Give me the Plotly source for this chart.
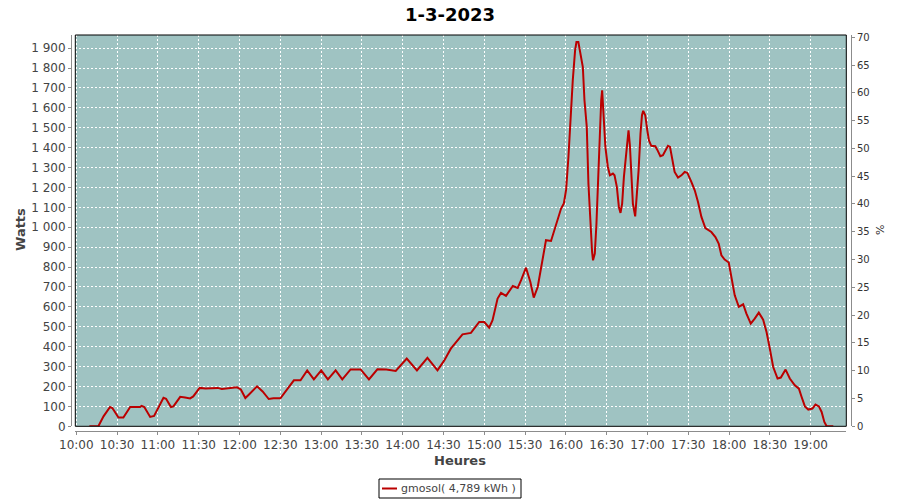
import plotly.graph_objects as go

# ---- data ----
times = [
    "10:09:36", "10:16:12", "10:20:00", "10:24:48", "10:26:30", "10:31:00", "10:34:36", "10:39:36",
    "10:46:54", "10:48:00", "10:50:00", "10:54:18", "10:57:12", "11:04:06", "11:06:00", "11:09:36",
    "11:11:24", "11:16:24", "11:20:00", "11:23:42", "11:26:00", "11:30:42", "11:35:00", "11:40:00",
    "11:44:00", "11:47:00", "11:50:00", "11:54:00", "11:58:12", "12:01:00", "12:04:18", "12:07:00",
    "12:12:54", "12:17:00", "12:21:30", "12:25:00", "12:30:06", "12:35:00", "12:40:00", "12:44:54",
    "12:49:48", "12:54:42", "13:00:06", "13:05:00", "13:10:42", "13:15:36", "13:21:42", "13:29:06",
    "13:35:12", "13:41:24", "13:48:00", "13:54:54", "13:58:00", "14:03:00", "14:10:30", "14:18:12",
    "14:25:36", "14:30:30", "14:35:24", "14:44:00", "14:50:12", "14:56:18", "15:00:00", "15:03:36",
    "15:06:06", "15:09:48", "15:12:18", "15:16:00", "15:21:00", "15:24:36", "15:27:06", "15:30:42",
    "15:33:54", "15:36:24", "15:39:18", "15:41:42", "15:45:24", "15:49:06", "15:52:48", "15:56:30",
    "15:58:30", "16:00:12", "16:01:54", "16:03:18", "16:05:06", "16:06:48", "16:07:48", "16:09:12",
    "16:10:42", "16:12:30", "16:13:42", "16:15:24", "16:16:36", "16:18:00", "16:19:18", "16:20:00",
    "16:21:18", "16:22:30", "16:24:00", "16:25:00", "16:26:00", "16:26:42", "16:27:42", "16:29:06",
    "16:30:54", "16:32:24", "16:34:36", "16:35:48", "16:37:30", "16:39:00", "16:40:12", "16:41:24",
    "16:42:42", "16:44:24", "16:45:36", "16:46:06", "16:47:06", "16:48:06", "16:49:18", "16:51:00",
    "16:52:00", "16:53:30", "16:54:54", "16:56:00", "16:56:54", "16:58:24", "16:59:54", "17:01:06",
    "17:02:48", "17:05:48", "17:07:12", "17:09:30", "17:11:24", "17:13:06", "17:15:06", "17:16:36",
    "17:18:00", "17:20:00", "17:22:30", "17:25:00", "17:27:24", "17:29:24", "17:32:18", "17:34:48",
    "17:37:12", "17:39:42", "17:42:36", "17:47:00", "17:50:00", "17:52:24", "17:54:24", "17:56:48",
    "17:59:48", "18:01:48", "18:04:12", "18:07:12", "18:10:24", "18:12:48", "18:16:00", "18:18:54",
    "18:21:54", "18:25:06", "18:27:36", "18:30:00", "18:32:30", "18:35:42", "18:38:06", "18:41:36",
    "18:44:42", "18:48:24", "18:51:24", "18:53:24", "18:55:48", "18:58:18", "19:01:18", "19:03:36",
    "19:06:06", "19:08:06", "19:10:06", "19:11:48", "19:16:42",
]
watts = [
    0, 0, 50, 97, 92, 44, 44, 97,
    97, 103, 97, 47, 52, 143, 138, 97,
    100, 148, 145, 140, 150, 193, 190, 190,
    193, 188, 190, 190, 196, 185, 142, 160,
    201, 175, 137, 141, 141, 185, 231, 231,
    281, 236, 281, 236, 281, 236, 286, 286,
    236, 286, 285, 278, 300, 340, 281, 344,
    281, 330, 390, 462, 469, 524, 524, 496,
    533, 642, 670, 655, 705, 695, 734, 797,
    725, 647, 700, 800, 935, 931, 1018, 1094,
    1119, 1189, 1353, 1538, 1739, 1889, 1931, 1931,
    1873, 1805, 1638, 1504, 1220, 1018, 876, 834,
    868, 1018, 1286, 1521, 1638, 1688, 1554, 1403,
    1303, 1261, 1270, 1261, 1203, 1102, 1072, 1119,
    1253, 1387, 1454, 1487, 1412, 1286, 1119, 1055,
    1136, 1286, 1471, 1563, 1585, 1563, 1487, 1437,
    1409, 1407, 1390, 1357, 1362, 1387, 1409, 1404,
    1345, 1278, 1250, 1261, 1278, 1273, 1228, 1186,
    1127, 1052, 996, 976, 951, 918, 859, 838,
    823, 750, 658, 600, 613, 566, 516, 541,
    571, 536, 474, 390, 298, 240, 245, 285,
    240, 206, 189, 147, 100, 84, 89, 109,
    100, 72, 22, 0, 0,
]
day = "2023-03-01"
title_text = "1-3-2023"
series_name = "gmosol( 4,789 kWh\u00a0)"
x_title = "Heures"
y_title = "Watts"
y2_title = "%"

x = [f"{day} {t}" for t in times]

# ---- layout geometry (pixels -> paper) ----
W, H = 900, 500
ML, MR, MT, MB = 70, 45, 30, 65
PW = W - ML - MR
PH = H - MT - MB


def px(v):
    return (v - ML) / PW


def py(v):
    return (H - MB - v) / PH


plot_l, plot_r, plot_t, plot_b = 75.3, 846.3, 35.0, 426.3

bg = "#9fc3c2"
red = "#bb0000"
txt = "#444444"
axis_gray = "#8c8c8c"
font_family = "DejaVu Sans, Verdana, sans-serif"

fig = go.Figure()
fig.add_trace(go.Scatter(
    x=x, y=watts, mode="lines", name=series_name,
    line=dict(color=red, width=2), showlegend=False,
))
# invisible trace on y2 so the right axis is drawn
fig.add_trace(go.Scatter(
    x=[x[0]], y=[0], yaxis="y2", mode="markers",
    marker=dict(opacity=0), showlegend=False, hoverinfo="skip",
))

fig.update_layout(
    width=W, height=H,
    margin=dict(l=ML, r=MR, t=MT, b=MB),
    paper_bgcolor="white",
    plot_bgcolor=bg,
    separators=", ",
    font=dict(family=font_family, size=11, color=txt),
    xaxis=dict(
        type="date",
        domain=[px(plot_l), px(plot_r)],
        range=[f"{day} 09:59:15", f"{day} 19:26:15"],
        tick0=f"{day} 10:00", dtick=30 * 60 * 1000,
        tickformat="%H:%M",
        showgrid=True, gridcolor="white", gridwidth=1, griddash="2px,2px",
        anchor="free", position=py(431),
        showline=True, linecolor=axis_gray, linewidth=1,
        ticks="outside", ticklen=3, tickcolor=axis_gray,
        tickfont=dict(size=12, color=txt),
        zeroline=False, automargin=False,
    ),
    yaxis=dict(
        domain=[py(plot_b), py(plot_t)],
        range=[0, 1966],
        dtick=100, tick0=0,
        tickformat=",d",
        showgrid=True, gridcolor="white", gridwidth=1, griddash="2px,2px",
        anchor="free", position=px(71),
        showline=True, linecolor=axis_gray, linewidth=1,
        ticks="outside", ticklen=3, tickcolor=axis_gray,
        tickfont=dict(size=12, color=txt),
        zeroline=False, automargin=False,
    ),
    yaxis2=dict(
        overlaying="y", side="right",
        range=[0, 70.4], dtick=5, tick0=0,
        showgrid=False,
        anchor="free", position=px(851),
        showline=True, linecolor=axis_gray, linewidth=1,
        ticks="outside", ticklen=3, tickcolor=axis_gray,
        tickfont=dict(size=10, color="#333333"),
        zeroline=False, automargin=False,
    ),
    showlegend=False,
)

# plot border
fig.add_shape(type="rect", xref="x domain", yref="y domain", x0=0, x1=1, y0=0, y1=1,
              line=dict(color="black", width=1), layer="above")

# title and axis titles
fig.add_annotation(text=f"<b>{title_text}</b>", xref="paper", yref="paper",
                   x=px(450), y=py(14), showarrow=False,
                   font=dict(size=18, color="black", family=font_family),
                   xanchor="center", yanchor="middle")
fig.add_annotation(text=f"<b>{x_title}</b>", xref="paper", yref="paper",
                   x=px(460), y=py(460), showarrow=False,
                   font=dict(size=13, color=txt, family=font_family),
                   xanchor="center", yanchor="middle")
fig.add_annotation(text=f"<b>{y_title}</b>", xref="paper", yref="paper",
                   x=px(20), y=py(230), showarrow=False, textangle=-90,
                   font=dict(size=13, color=txt, family=font_family),
                   xanchor="center", yanchor="middle")
fig.add_annotation(text=y2_title, xref="paper", yref="paper",
                   x=px(880), y=py(230), showarrow=False, textangle=-90,
                   font=dict(size=11, color="#333333", family=font_family),
                   xanchor="center", yanchor="middle")

# legend box
fig.add_shape(type="rect", xref="paper", yref="paper",
              x0=px(379), x1=px(521), y0=py(498), y1=py(479),
              line=dict(color="black", width=1), fillcolor="white")
fig.add_shape(type="line", xref="paper", yref="paper",
              x0=px(382), x1=px(397), y0=py(488.5), y1=py(488.5),
              line=dict(color=red, width=2))
fig.add_annotation(text=series_name, xref="paper", yref="paper",
                   x=px(399), y=py(488.5), showarrow=False,
                   font=dict(size=11, color=txt, family=font_family),
                   xanchor="left", yanchor="middle")

fig.write_html("out.html", post_script="document.body.style.margin='0';",
               config={"displayModeBar": False})
